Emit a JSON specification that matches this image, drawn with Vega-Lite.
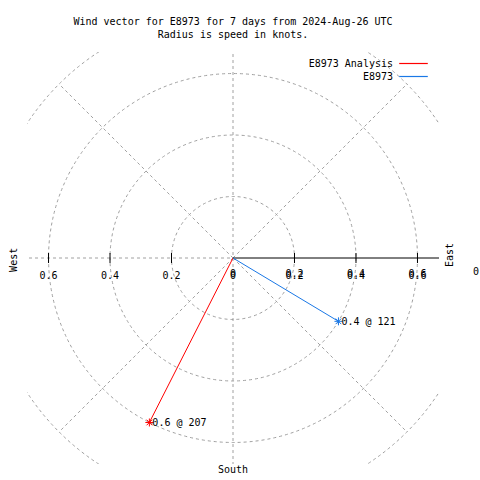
{
  "$schema": "https://vega.github.io/schema/vega-lite/v6.json",
  "width": 412,
  "height": 412,
  "autosize": {"type": "none"},
  "padding": {"left": 27, "top": 52, "right": 41, "bottom": 16},
  "background": "white",
  "title": {
    "text": ["Wind vector for E8973 for 7 days from 2024-Aug-26 UTC", "Radius is speed in knots."],
    "font": "DejaVu Sans Mono",
    "fontSize": 10,
    "fontWeight": "normal",
    "color": "black",
    "anchor": "middle",
    "frame": "group",
    "lineHeight": 13,
    "offset": 12
  },
  "config": {
    "view": {"stroke": null},
    "text": {"font": "DejaVu Sans Mono", "fontSize": 10, "color": "black"}
  },
  "datasets": {
    "circles": [
      {"r": 0.2, "x": 0, "y": 0},
      {"r": 0.4, "x": 0, "y": 0},
      {"r": 0.6, "x": 0, "y": 0},
      {"r": 0.8, "x": 0, "y": 0}
    ],
    "rays": [
      {"x": 0, "y": 0.8, "x2": 0, "y2": -0.8},
      {"x": -0.8, "y": 0, "x2": 0, "y2": 0},
      {"x": 0, "y": 0, "x2": 0.566, "y2": 0.566},
      {"x": 0, "y": 0, "x2": -0.566, "y2": 0.566},
      {"x": 0, "y": 0, "x2": 0.566, "y2": -0.566},
      {"x": 0, "y": 0, "x2": -0.566, "y2": -0.566}
    ],
    "axis": [{"x": 0, "x2": 0.67, "y": 0}],
    "ticks": [
      {"t": -0.6, "y": 0, "label": "0.6"},
      {"t": -0.4, "y": 0, "label": "0.4"},
      {"t": -0.2, "y": 0, "label": "0.2"},
      {"t": 0, "y": 0, "label": "0"},
      {"t": 0.2, "y": 0, "label": "0.2"},
      {"t": 0.4, "y": 0, "label": "0.4"},
      {"t": 0.6, "y": 0, "label": "0.6"}
    ],
    "vectors": [
      {"series": "E8973 Analysis", "step": 0, "x": 0, "y": 0},
      {"series": "E8973 Analysis", "step": 1, "x": -0.272, "y": -0.535, "label": "0.6 @ 207"},
      {"series": "E8973", "step": 0, "x": 0, "y": 0},
      {"series": "E8973", "step": 1, "x": 0.343, "y": -0.206, "label": "0.4 @ 121"}
    ],
    "notes": [
      {"label": "West", "x": -0.712, "y": -0.006, "rot": 270},
      {"label": "East", "x": 0.706, "y": 0.01, "rot": 270},
      {"label": "South", "x": 0, "y": -0.69, "rot": 0},
      {"label": "0", "x": 0.79, "y": -0.046, "rot": 0}
    ]
  },
  "layer": [
    {
      "data": {"name": "circles"},
      "mark": {"type": "point", "shape": "circle", "filled": false, "stroke": "#a0a0a0", "strokeWidth": 1, "strokeDash": [3, 3], "opacity": 1, "clip": true},
      "encoding": {
        "x": {"field": "x", "type": "quantitative", "scale": {"domain": [-0.67, 0.67], "nice": false, "zero": false}, "axis": null},
        "y": {"field": "y", "type": "quantitative", "scale": {"domain": [-0.67, 0.67], "nice": false, "zero": false}, "axis": null},
        "size": {"field": "r", "type": "quantitative", "legend": null, "scale": {"type": "pow", "exponent": 2, "domain": [0, 0.67], "range": [0, 169744], "zero": true, "nice": false}}
      }
    },
    {
      "data": {"name": "rays"},
      "mark": {"type": "rule", "stroke": "#a0a0a0", "strokeWidth": 1, "strokeDash": [3, 3], "clip": true},
      "encoding": {
        "x": {"field": "x", "type": "quantitative"},
        "y": {"field": "y", "type": "quantitative"},
        "x2": {"field": "x2"},
        "y2": {"field": "y2"}
      }
    },
    {
      "data": {"name": "axis"},
      "mark": {"type": "rule", "stroke": "black", "strokeWidth": 1},
      "encoding": {
        "x": {"field": "x", "type": "quantitative"},
        "x2": {"field": "x2"},
        "y": {"field": "y", "type": "quantitative"}
      }
    },
    {
      "data": {"name": "ticks"},
      "transform": [{"filter": "datum.t != 0"}],
      "mark": {"type": "tick", "orient": "vertical", "size": 10, "thickness": 1, "color": "black", "opacity": 1},
      "encoding": {
        "x": {"field": "t", "type": "quantitative"},
        "y": {"field": "y", "type": "quantitative"}
      }
    },
    {
      "data": {"name": "ticks"},
      "mark": {"type": "text", "align": "center", "baseline": "middle", "dy": 18},
      "encoding": {
        "x": {"field": "t", "type": "quantitative"},
        "y": {"field": "y", "type": "quantitative"},
        "text": {"field": "label", "type": "nominal"}
      }
    },
    {
      "data": {"name": "ticks"},
      "transform": [{"filter": "datum.t >= 0"}],
      "mark": {"type": "text", "align": "center", "baseline": "middle", "dy": 16},
      "encoding": {
        "x": {"field": "t", "type": "quantitative"},
        "y": {"field": "y", "type": "quantitative"},
        "text": {"field": "label", "type": "nominal"}
      }
    },
    {
      "data": {"name": "vectors"},
      "mark": {"type": "line", "strokeWidth": 1},
      "encoding": {
        "x": {"field": "x", "type": "quantitative"},
        "y": {"field": "y", "type": "quantitative"},
        "order": {"field": "step", "type": "quantitative"},
        "color": {
          "field": "series",
          "type": "nominal",
          "scale": {"domain": ["E8973 Analysis", "E8973"], "range": ["#ff0000", "#1a78e6"]},
          "legend": {
            "title": null,
            "orient": "none",
            "legendX": 379,
            "legendY": 4,
            "padding": 0,
            "symbolType": "M-2.2,0L2.2,0",
            "symbolSize": 169,
            "symbolStrokeWidth": 1.2,
            "labelFont": "DejaVu Sans Mono",
            "labelFontSize": 10,
            "labelColor": "black",
            "labelAlign": "right",
            "labelOffset": -28,
            "labelLimit": 300,
            "rowPadding": 0
          }
        }
      }
    },
    {
      "data": {"name": "vectors"},
      "transform": [{"filter": "datum.step == 1"}],
      "mark": {"type": "point", "shape": "M-1,0L1,0M0,-1L0,1M-0.7,-0.7L0.7,0.7M-0.7,0.7L0.7,-0.7", "size": 64, "strokeWidth": 1, "filled": false, "opacity": 1},
      "encoding": {
        "x": {"field": "x", "type": "quantitative"},
        "y": {"field": "y", "type": "quantitative"},
        "stroke": {"field": "series", "type": "nominal", "legend": null, "scale": {"domain": ["E8973 Analysis", "E8973"], "range": ["#ff0000", "#1a78e6"]}}
      }
    },
    {
      "data": {"name": "vectors"},
      "transform": [{"filter": "datum.step == 1"}],
      "mark": {"type": "text", "align": "left", "baseline": "middle", "dx": 3, "dy": 1},
      "encoding": {
        "x": {"field": "x", "type": "quantitative"},
        "y": {"field": "y", "type": "quantitative"},
        "text": {"field": "label", "type": "nominal"}
      }
    },
    {
      "data": {"name": "notes"},
      "mark": {"type": "text", "align": "center", "baseline": "middle"},
      "encoding": {
        "x": {"field": "x", "type": "quantitative"},
        "y": {"field": "y", "type": "quantitative"},
        "angle": {"field": "rot", "type": "quantitative", "scale": null},
        "text": {"field": "label", "type": "nominal"}
      }
    }
  ]
}
